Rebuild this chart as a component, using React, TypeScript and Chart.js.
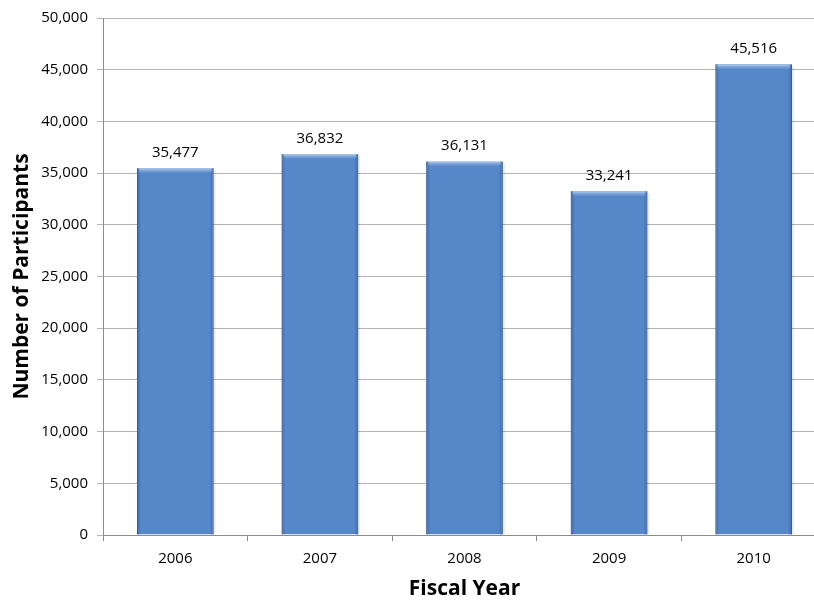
import React, { useEffect, useRef } from "react";
import { Chart, registerables } from "chart.js";

Chart.register(...registerables);

const categories = ["2006", "2007", "2008", "2009", "2010"];
const participants = [35477, 36832, 36131, 33241, 45516];
const yTickMax = 50000;
const yTickStep = 5000;
const xAxisTitle = "Fiscal Year";
const yAxisTitle = "Number of Participants";

const FONT = "'Open Sans', 'Noto Sans', sans-serif";

const fmt = (v: number) => v.toLocaleString("en-US");

const barStylePlugin = {
  id: "barStyle",
  afterDatasetsDraw(chart: any) {
    const ctx = chart.ctx;
    const meta = chart.getDatasetMeta(0);
    ctx.save();
    meta.data.forEach((bar: any, i: number) => {
      const { x, y, base, width } = bar.getProps(["x", "y", "base", "width"], true);
      const l = x - width / 2;
      const r = x + width / 2;
      const h = base - y;
      let g = ctx.createLinearGradient(l, 0, l + 4, 0);
      g.addColorStop(0, "rgba(40,80,140,0.55)");
      g.addColorStop(1, "rgba(40,80,140,0)");
      ctx.fillStyle = g;
      ctx.fillRect(l, y, 4, h);
      g = ctx.createLinearGradient(r - 4, 0, r, 0);
      g.addColorStop(0, "rgba(40,80,140,0)");
      g.addColorStop(1, "rgba(40,80,140,0.55)");
      ctx.fillStyle = g;
      ctx.fillRect(r - 4, y, 4, h);
      g = ctx.createLinearGradient(0, y, 0, y + 5);
      g.addColorStop(0, "rgba(170,200,240,0.9)");
      g.addColorStop(1, "rgba(170,200,240,0)");
      ctx.fillStyle = g;
      ctx.fillRect(l + 2, y, width - 4, 5);
      ctx.fillStyle = "rgba(0,0,0,0.08)";
      ctx.fillRect(r, y + 2, 2, h - 2);
      ctx.fillStyle = "#000";
      ctx.font = `15px ${FONT}`;
      ctx.textAlign = "center";
      ctx.textBaseline = "bottom";
      ctx.fillText(fmt(participants[i]), x, y - 8);
    });
    ctx.restore();
  },
};

export default function App() {
  const ref = useRef<HTMLCanvasElement>(null);
  useEffect(() => {
    if (!ref.current) return;
    const chart = new Chart(ref.current, {
      type: "bar",
      data: {
        labels: categories,
        datasets: [
          {
            data: participants,
            backgroundColor: "#5687C9",
            borderColor: "#3F6DA9",
            borderWidth: 1,
            categoryPercentage: 1,
            barPercentage: 0.53,
          },
        ],
      },
      plugins: [barStylePlugin],
      options: {
        responsive: false,
        animation: false,
        devicePixelRatio: 1,
        layout: { padding: { left: 0, right: 14, top: 16, bottom: 0 } },
        plugins: { legend: { display: false }, tooltip: { enabled: false }, title: { display: false } },
        scales: {
          x: {
            offset: true,
            grid: {
              offset: true,
              drawOnChartArea: false,
              drawTicks: true,
              tickLength: 6,
              color: "#8C8C8C",
            },
            border: { color: "#8C8C8C", width: 1 },
            ticks: { color: "#000", font: { family: FONT, size: 15 }, padding: 9 },
            title: {
              display: true,
              text: xAxisTitle,
              color: "#000",
              font: { family: FONT, size: 21, weight: "bold" },
              padding: { top: 0, bottom: -2 },
            },
            afterFit(scale: any) {
              scale.height = 65;
            },
          },
          y: {
            min: 0,
            max: yTickMax,
            grid: { color: "#B4B4B4", tickLength: 6, lineWidth: 1 },
            border: { color: "#8C8C8C", width: 1 },
            ticks: {
              stepSize: yTickStep,
              color: "#000",
              font: { family: FONT, size: 15 },
              padding: 9,
              callback: (v: any) => fmt(Number(v)),
            },
            title: {
              display: true,
              text: yAxisTitle,
              color: "#000",
              font: { family: FONT, size: 21, weight: "bold" },
              padding: { top: 9, bottom: 0 },
            },
            afterFit(scale: any) {
              scale.width = 103;
            },
          },
        },
      },
    });
    return () => chart.destroy();
  }, []);
  return (
    <div style={{ position: "fixed", left: 0, top: 0, width: 814, height: 600, overflow: "hidden", background: "#fff" }}>
      <canvas ref={ref} width={840} height={600} style={{ display: "block" }} />
    </div>
  );
}
